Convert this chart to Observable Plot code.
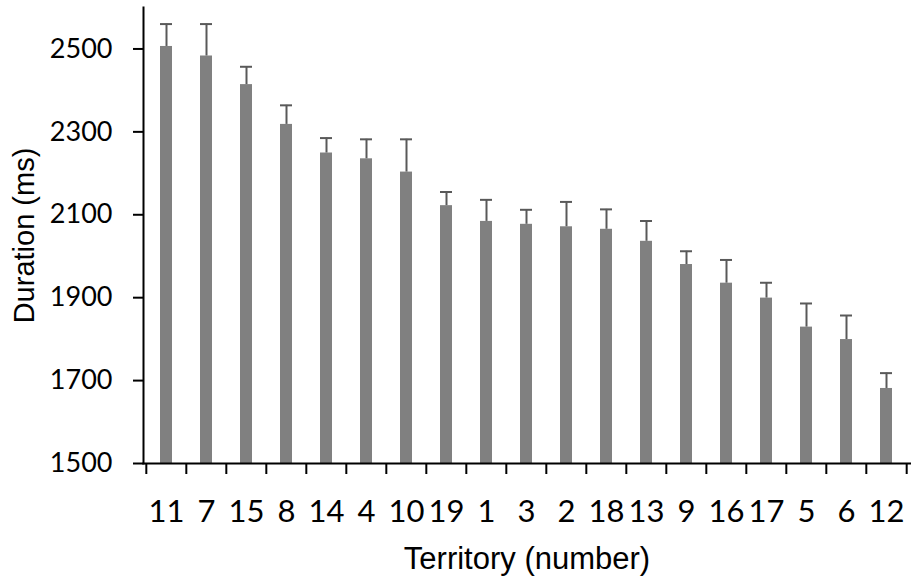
<!DOCTYPE html>
<html>
<head>
<meta charset="utf-8">
<script src="https://cdn.jsdelivr.net/npm/d3@7"></script>
<script src="https://cdn.jsdelivr.net/npm/@observablehq/plot@0.6"></script>
<style>
  html, body { margin: 0; padding: 0; background: white; }
</style>
</head>
<body>
<div id="chart"></div>
<script>
const territories = ["11","7","15","8","14","4","10","19","1","3","2","18","13","9","16","17","5","6","12"];
const means = [2506,2483,2414,2318,2249,2235,2203,2122,2084,2077,2071,2065,2036,1980,1935,1899,1829,1799,1681];
const errors = [54,77,43,46,36,47,79,33,52,35,60,48,49,32,56,37,57,58,37];
const yTicks = [1500,1700,1900,2100,2300,2500];

const data = territories.map((t, i) => ({territory: t, mean: means[i], err: errors[i]}));

const W = 911, H = 580, mL = 143, mR = 1, mT = 7, mB = 117;
const step = (W - mL - mR) / territories.length;

const chart = Plot.plot({
  width: W, height: H,
  marginLeft: mL, marginRight: mR, marginTop: mT, marginBottom: mB,
  style: {fontFamily: "Lato", background: "white", color: "black"},
  x: {domain: territories, paddingInner: 0.69, paddingOuter: 0.345},
  y: {domain: [1500, 2600]},
  marks: [
    Plot.barY(data, {x: "territory", y1: 1500, y2: "mean", fill: "#808080"}),
    Plot.ruleX(data, {x: "territory", y1: "mean", y2: d => d.mean + d.err, stroke: "#595959", strokeWidth: 2}),
    Plot.tickY(data, {x: "territory", y: d => d.mean + d.err, stroke: "#595959", strokeWidth: 2}),
    Plot.axisY({ticks: yTicks, tickFormat: "d", tickSize: 10, tickPadding: 21, fontSize: 27, label: null, strokeWidth: 2}),
    Plot.axisX({tickSize: 11, tickFormat: () => "", dx: -step / 2, label: null, strokeWidth: 2}),
    Plot.axisX([territories[territories.length - 1]], {tickSize: 11, tickFormat: () => "", dx: step / 2, label: null, strokeWidth: 2}),
    Plot.axisX({tickSize: 0, tickPadding: 36, fontSize: 31, label: null}),
    Plot.frame({anchor: "left", stroke: "black", strokeWidth: 2}),
    Plot.frame({anchor: "bottom", stroke: "black", strokeWidth: 2}),
    Plot.text(["Duration (ms)"], {frameAnchor: "left", textAnchor: "middle", rotate: -90, dx: -119, fontSize: 29, fontFamily: "Liberation Sans"}),
    Plot.text(["Territory (number)"], {frameAnchor: "bottom", textAnchor: "middle", dy: 105, fontSize: 31, fontFamily: "Liberation Sans"})
  ]
});
document.getElementById("chart").appendChild(chart);
</script>
</body>
</html>
